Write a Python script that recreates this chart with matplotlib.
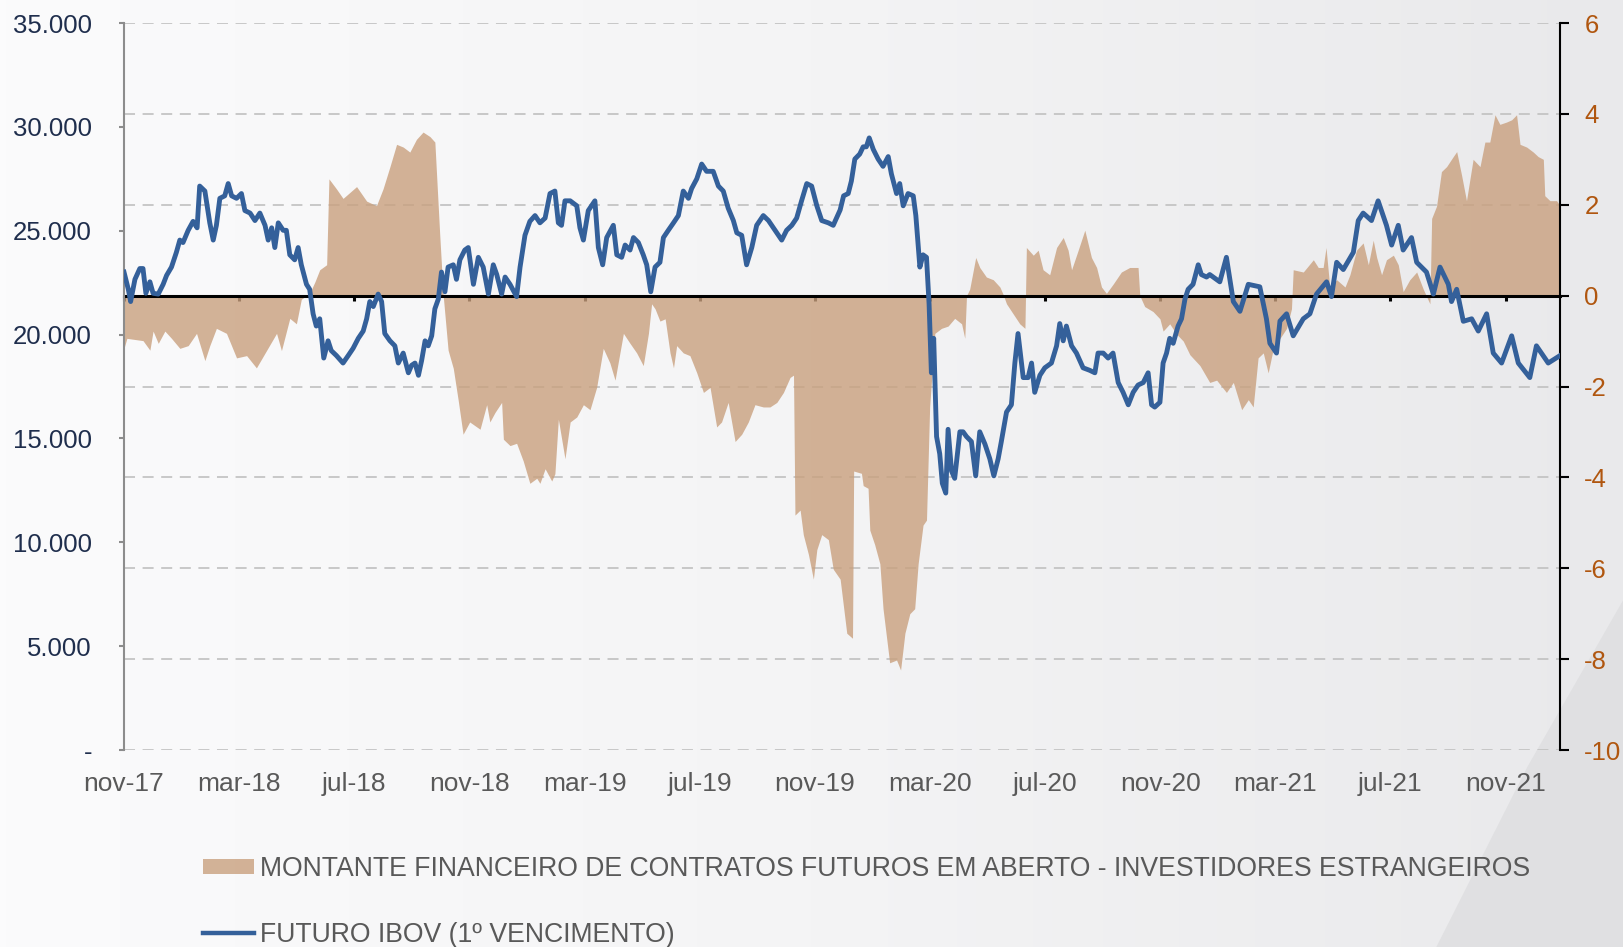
import numpy as np
import matplotlib
matplotlib.use("Agg")
from matplotlib import pyplot as plt
from matplotlib.patches import Patch, Polygon
from matplotlib.lines import Line2D
from matplotlib.colors import LinearSegmentedColormap

plt.rcParams["font.family"] = ["Liberation Sans", "DejaVu Sans"]
plt.rcParams["axes.unicode_minus"] = False

# x axis: months counted from nov-17
tick_months = [0, 4, 8, 12, 16, 20, 24, 28, 32, 36, 40, 44, 48]
tick_labels = ["nov-17", "mar-18", "jul-18", "nov-18", "mar-19", "jul-19", "nov-19",
               "mar-20", "jul-20", "nov-20", "mar-21", "jul-21", "nov-21"]

left_ticks = [0, 5000, 10000, 15000, 20000, 25000, 30000, 35000]
left_labels = ["-", "5.000", "10.000", "15.000", "20.000", "25.000", "30.000", "35.000"]
right_ticks = [-10, -8, -6, -4, -2, 0, 2, 4, 6]

# FUTURO IBOV (1o vencimento) - left axis
ibov_month = [
    0.00, 0.15, 0.23, 0.38, 0.55, 0.66, 0.76, 0.90, 1.01, 1.19, 1.36, 1.48, 1.65, 1.82, 1.94,
    2.05, 2.23, 2.40, 2.54, 2.63, 2.81, 2.98, 3.10, 3.21, 3.33, 3.50, 3.62, 3.74, 3.91, 4.08,
    4.20, 4.38, 4.55, 4.72, 4.90, 5.01, 5.13, 5.24, 5.36, 5.53, 5.64, 5.76, 5.93, 6.05, 6.16,
    6.34, 6.45, 6.57, 6.68, 6.80, 6.94, 7.09, 7.20, 7.38, 7.61, 7.79, 7.96, 8.14, 8.31, 8.43,
    8.54, 8.66, 8.83, 8.95, 9.06, 9.24, 9.41, 9.53, 9.70, 9.88, 9.99, 10.11, 10.23, 10.34,
    10.46, 10.57, 10.69, 10.80, 10.92, 11.03, 11.15, 11.26, 11.44, 11.55, 11.67, 11.84, 11.96,
    12.14, 12.31, 12.48, 12.66, 12.83, 12.95, 13.12, 13.24, 13.41, 13.64, 13.76, 13.93, 14.10,
    14.28, 14.45, 14.63, 14.80, 14.97, 15.09, 15.20, 15.32, 15.50, 15.73, 15.84, 15.96, 16.13,
    16.36, 16.48, 16.63, 16.77, 17.00, 17.12, 17.29, 17.41, 17.58, 17.70, 17.87, 18.04, 18.16,
    18.30, 18.45, 18.62, 18.74, 18.91, 19.09, 19.26, 19.43, 19.61, 19.72, 19.90, 20.07, 20.24,
    20.47, 20.65, 20.82, 20.99, 21.17, 21.29, 21.46, 21.63, 21.81, 21.98, 22.21, 22.39, 22.62,
    22.85, 23.02, 23.20, 23.37, 23.54, 23.72, 23.89, 24.07, 24.24, 24.47, 24.64, 24.88, 25.00,
    25.16, 25.27, 25.39, 25.56, 25.68, 25.79, 25.89, 26.03, 26.20, 26.37, 26.55, 26.66, 26.84,
    26.95, 27.07, 27.24, 27.42, 27.51, 27.65, 27.76, 27.88, 27.97, 28.05, 28.13, 28.23, 28.34,
    28.43, 28.55, 28.63, 28.75, 28.86, 29.04, 29.15, 29.27, 29.44, 29.59, 29.73, 29.91, 30.08,
    30.22, 30.37, 30.48, 30.66, 30.83, 30.95, 31.06, 31.24, 31.41, 31.53, 31.64, 31.82, 31.99,
    32.22, 32.40, 32.51, 32.63, 32.74, 32.92, 33.09, 33.32, 33.55, 33.73, 33.84, 34.02, 34.19,
    34.36, 34.54, 34.71, 34.89, 35.06, 35.23, 35.41, 35.58, 35.70, 35.81, 35.99, 36.10, 36.22,
    36.33, 36.45, 36.62, 36.74, 36.86, 36.97, 37.14, 37.32, 37.43, 37.61, 37.72, 38.07, 38.30,
    38.54, 38.77, 39.06, 39.46, 39.69, 39.81, 40.04, 40.16, 40.39, 40.62, 40.97, 41.20, 41.43,
    41.78, 41.95, 42.13, 42.36, 42.71, 42.88, 43.05, 43.34, 43.57, 43.86, 44.04, 44.27, 44.44,
    44.73, 44.91, 45.25, 45.49, 45.72, 46.01, 46.12, 46.30, 46.53, 46.82, 47.05, 47.34, 47.57,
    47.86, 48.21, 48.44, 48.84, 49.07, 49.48, 49.89]
ibov_value = [
    23010, 22180, 21590, 22660, 23180, 23180, 21990, 22540, 21990, 21950, 22420, 22850, 23250, 23960, 24550,
    24430, 25020, 25450, 25140, 27150, 26910, 25380, 24550, 25260, 26560, 26680, 27270, 26680, 26560, 26790,
    25970, 25850, 25490, 25850, 25260, 24550, 25140, 24190, 25380, 25020, 25020, 23840, 23600, 24190, 23360,
    22420, 22180, 21000, 20410, 20760, 18870, 19700, 19230, 18990, 18630, 18990, 19340, 19820, 20170, 20760,
    21590, 21350, 21950, 21590, 20050, 19700, 19460, 18630, 19110, 18160, 18520, 18630, 18040, 18750,
    19700, 19460, 19940, 21240, 21710, 23010, 22060, 23250, 23360, 22660, 23600, 24070, 24190,
    22420, 23720, 23250, 21950, 23360, 22890, 21950, 22770, 22420, 21830, 23250, 24780, 25450,
    25730, 25380, 25610, 26790, 26910, 25380, 25260, 26440, 26440, 26200, 25140, 24550, 25970,
    26440, 24190, 23360, 24670, 25260, 23840, 23720, 24310, 24070, 24670, 24430, 23840, 23360,
    22060, 23250, 23480, 24670, 25020, 25380, 25730, 26910, 26560, 27030, 27500, 28210, 27860,
    27860, 27150, 26910, 26090, 25490, 24900, 24780, 23360, 24190, 25260, 25730, 25490, 25020,
    24550, 25020, 25260, 25610, 26440, 27270, 27150, 26200, 25490, 25380, 25260, 26000, 26680,
    26790, 27390, 28450, 28690, 29040, 29040, 29470, 28920, 28450, 28100, 28570, 27740, 26790,
    27270, 26200, 26790, 26680, 25730, 23250, 23840, 23720, 21470, 18160, 19820, 15090, 14260,
    12840, 12370, 15440, 13430, 13080, 15320, 15320, 15090, 14850, 13200, 15320, 14730, 14020,
    13200, 14020, 14850, 16270, 16620, 18630, 20050, 17930, 17930, 18630, 17220, 18040, 18400,
    18630, 19460, 20530, 19700, 20410, 19460, 19110, 18400, 18280, 18160, 19110, 19110, 18870,
    19110, 17690, 17220, 16620, 17220, 17570, 17690, 18160, 16620, 16510, 16740, 18630, 19110,
    19820, 19580, 20410, 20760, 21710, 22180, 22420, 23360, 22890, 22770, 22890, 22540, 23720,
    21590, 21120, 22420, 22300, 20760, 19580, 19110, 20650, 21000, 19940, 20760, 21000, 21950,
    22540, 21830, 23480, 23130, 23960, 25490, 25850, 25490, 26440, 25260, 24310, 25260, 24070,
    24670, 23480, 23010, 21950, 23250, 22420, 21590, 22180, 20640, 20760, 20170, 21000, 19110,
    18630, 19940, 18630, 17930, 19460, 18630, 18990]

# Montante financeiro em aberto - investidores estrangeiros - right axis
flow_month = [
    0.00, 0.10, 0.66, 0.90, 1.01, 1.19, 1.42, 1.65, 1.94, 2.23, 2.52, 2.81, 2.98, 3.21, 3.56,
    3.91, 4.26, 4.60, 4.95, 5.30, 5.47, 5.76, 5.99, 6.16, 6.45, 6.63, 6.80, 7.04, 7.12, 7.38,
    7.61, 8.08, 8.43, 8.77, 9.00, 9.24, 9.47, 9.70, 9.93, 10.16, 10.39, 10.63, 10.80, 10.97,
    11.09, 11.26, 11.44, 11.61, 11.78, 12.01, 12.37, 12.60, 12.71, 12.89, 13.12, 13.18, 13.41,
    13.64, 13.87, 14.10, 14.34, 14.45, 14.63, 14.86, 14.97, 15.09, 15.32, 15.50, 15.73, 15.96,
    16.19, 16.42, 16.65, 16.88, 17.06, 17.35, 17.58, 17.81, 18.04, 18.22, 18.33, 18.45, 18.62,
    18.80, 18.97, 19.09, 19.20, 19.43, 19.66, 19.90, 20.13, 20.36, 20.59, 20.76, 20.99, 21.23,
    21.46, 21.69, 21.92, 22.21, 22.44, 22.68, 22.91, 23.14, 23.26, 23.31, 23.49, 23.60, 23.78,
    23.95, 24.07, 24.24, 24.47, 24.64, 24.88, 25.11, 25.31, 25.35, 25.62, 25.68, 25.85, 25.91,
    26.08, 26.26, 26.37, 26.60, 26.84, 26.98, 27.13, 27.30, 27.47, 27.59, 27.76, 27.88, 27.99,
    28.17, 28.40, 28.63, 28.86, 29.10, 29.21, 29.27, 29.38, 29.59, 29.73, 29.96, 30.20, 30.43,
    30.54, 30.66, 30.89, 31.12, 31.30, 31.35, 31.59, 31.76, 31.93, 32.16, 32.40, 32.63, 32.80,
    32.92, 33.15, 33.38, 33.61, 33.79, 33.96, 34.13, 34.36, 34.65, 34.94, 35.23, 35.29, 35.46,
    35.75, 35.99, 36.10, 36.33, 36.56, 36.80, 37.03, 37.38, 37.72, 37.96, 38.30, 38.54, 38.83,
    39.06, 39.23, 39.40, 39.58, 39.75, 39.93, 40.16, 40.39, 40.56, 40.62, 40.97, 41.32, 41.49,
    41.66, 41.76, 41.89, 42.13, 42.42, 42.59, 42.82, 43.05, 43.23, 43.40, 43.52, 43.69, 43.86,
    44.10, 44.27, 44.44, 44.67, 44.91, 45.14, 45.37, 45.43, 45.60, 45.77, 45.95, 46.18, 46.30,
    46.47, 46.64, 46.87, 47.11, 47.28, 47.45, 47.63, 47.80, 48.03, 48.21, 48.38, 48.50, 48.73,
    48.96, 49.13, 49.31, 49.36, 49.54, 49.77, 49.89]
flow_value = [
    -1.16, -0.94, -0.99, -1.20, -0.78, -1.05, -0.78, -0.94, -1.16, -1.10, -0.83, -1.43, -1.10, -0.72, -0.83,
    -1.37, -1.32, -1.59, -1.21, -0.83, -1.21, -0.50, -0.62, -0.08, 0.05, 0.30, 0.57, 0.68, 2.57, 2.35,
    2.14, 2.40, 2.08, 1.98, 2.35, 2.84, 3.33, 3.27, 3.16, 3.44, 3.60, 3.50, 3.38, 1.33,
    0.00, -1.20, -1.60, -2.30, -3.05, -2.78, -2.94, -2.40, -2.78, -2.57, -2.35, -3.16, -3.30,
    -3.25, -3.64, -4.13, -4.02, -4.13, -3.81, -4.08, -3.92, -2.72, -3.59, -2.78, -2.67, -2.40,
    -2.51, -2.02, -1.16, -1.48, -1.86, -0.83, -1.05, -1.26, -1.54, -0.83, -0.18, -0.29, -0.56,
    -0.51, -1.26, -1.59, -1.10, -1.26, -1.32, -1.70, -2.13, -2.02, -2.89, -2.78, -2.35, -3.21,
    -3.05, -2.78, -2.40, -2.45, -2.45, -2.35, -2.13, -1.80, -1.75, -4.83, -4.72, -5.26, -5.70,
    -6.24, -5.59, -5.26, -5.37, -6.02, -6.24, -7.43, -7.54, -3.86, -3.91, -4.18, -4.24, -5.16,
    -5.48, -5.90, -6.89, -8.08, -8.02, -8.24, -7.43, -7.00, -6.89, -5.90, -5.05, -4.94, -2.45,
    -0.83, -0.72, -0.67, -0.50, -0.62, -0.94, 0.00, 0.14, 0.84, 0.62, 0.41, 0.35, 0.19,
    0.03, -0.18, -0.40, -0.62, -0.72, 1.06, 0.89, 1.00, 0.57, 0.46, 1.06, 1.28, 1.00,
    0.57, 1.00, 1.44, 0.84, 0.62, 0.19, 0.05, 0.25, 0.52, 0.62, 0.62, 0.00, -0.24,
    -0.35, -0.51, -0.78, -0.62, -0.84, -1.00, -1.30, -1.54, -1.91, -1.86, -2.13, -1.91, -2.51,
    -2.29, -2.45, -1.37, -1.26, -1.70, -1.16, -0.94, -0.72, -0.29, 0.57, 0.52, 0.79, 0.62,
    0.62, 1.06, 0.19, 0.35, 0.19, 0.46, 1.00, 1.16, 0.68, 1.22, 0.84, 0.46, 0.79,
    0.89, 0.68, 0.09, 0.35, 0.52, 0.14, -0.18, 1.70, 1.97, 2.73, 2.84, 3.06, 3.17,
    2.65, 2.09, 3.00, 2.84, 3.38, 3.38, 3.98, 3.77, 3.82, 3.87, 3.98, 3.33, 3.27,
    3.16, 3.06, 3.00, 2.20, 2.09, 2.09, 1.98]

flow_name = "MONTANTE FINANCEIRO DE CONTRATOS FUTUROS EM ABERTO - INVESTIDORES ESTRANGEIROS"
ibov_name = "FUTURO IBOV (1º VENCIMENTO)"

area_color = "#c9a07e"
line_color = "#34609a"

fig = plt.figure(figsize=(16.23, 9.47), dpi=100)

# soft grey background with the lighter wedge in the corner
bg = fig.add_axes([0, 0, 1, 1], zorder=-10)
bg_cmap = LinearSegmentedColormap.from_list("bg", ["#fbfbfc", "#f4f4f5", "#e9e9eb"])
bg.imshow(np.linspace(0, 1, 256).reshape(1, -1), extent=[0, 1, 0, 1], aspect="auto", cmap=bg_cmap)
bg.add_patch(Polygon([(1.0, 0.366), (0.941, 0.19), (0.885, 0.0), (1.0, 0.0)],
                     closed=True, facecolor="#e0e0e2", edgecolor="none"))
bg.set_xlim(0, 1)
bg.set_ylim(0, 1)
bg.axis("off")

ax = fig.add_axes([0.0764, 0.208, 0.8848, 0.7677])
ax.set_facecolor("none")
ax_l = ax.twinx()
ax.yaxis.tick_right()
ax_l.yaxis.tick_left()

# area (right axis)
ax.fill_between(flow_month, flow_value, 0, color=area_color, alpha=0.8, lw=0, zorder=1)
ax.set_ylim(-10, 6)
ax.set_yticks(right_ticks)
ax.set_yticklabels([str(v) for v in right_ticks])
ax.set_xlim(0, 49.89)
ax.set_xticks(tick_months)
ax.set_xticklabels(tick_labels)
ax.set_axisbelow(True)
ax.grid(axis="y", color="#c4c4c4", lw=1.3, linestyle=(0, (6.1, 4.2)))
ax.grid(axis="x", visible=False)

ax.spines["bottom"].set_position(("data", 0))
ax.spines["bottom"].set_color("black")
ax.spines["bottom"].set_linewidth(2.2)
ax.spines["top"].set_visible(False)
ax.spines["left"].set_visible(False)
ax.spines["right"].set_color("black")
ax.spines["right"].set_linewidth(1.5)
ax.tick_params(axis="y", right=True, left=False, labelright=True, labelleft=False,
               direction="out", length=6.5, width=1.5, color="black",
               labelcolor="#b0560f", labelsize=18.5, pad=11)
ax.tick_params(axis="x", bottom=True, labelbottom=False, direction="out",
               length=3.5, width=2.2, color="black")

# line (left axis)
ax_l.plot(ibov_month, ibov_value, color=line_color, lw=3.5, solid_joinstyle="round", zorder=3)
ax_l.set_ylim(0, 35000)
ax_l.set_yticks(left_ticks)
ax_l.set_yticklabels(left_labels)
for side in ["top", "right", "bottom"]:
    ax_l.spines[side].set_visible(False)
ax_l.spines["left"].set_color("#8c8c8c")
ax_l.spines["left"].set_linewidth(1.5)
ax_l.tick_params(axis="y", left=True, right=False, labelleft=True, labelright=False,
                 direction="out", length=3.6, width=1.5, color="#8c8c8c",
                 labelcolor="#1f2e4d", labelsize=18.5, pad=19.5)
ax_l.xaxis.set_visible(True)
ax_l.tick_params(axis="x", bottom=True, length=0, labelbottom=True,
                 labelsize=19, labelcolor="#595959", pad=15.5)

handles = [Patch(facecolor=area_color, alpha=0.8, lw=0),
           Line2D([], [], color=line_color, lw=3.2)]
fig.legend(handles, [flow_name, ibov_name], loc="center left",
           bbox_to_anchor=(0.125, 0.0478), frameon=False, fontsize=19.2,
           handlelength=1.9, handleheight=0.5, handletextpad=0.23,
           labelspacing=1.5, borderpad=0, borderaxespad=0, labelcolor="#595959")

fig.savefig("out.png", dpi=100)
